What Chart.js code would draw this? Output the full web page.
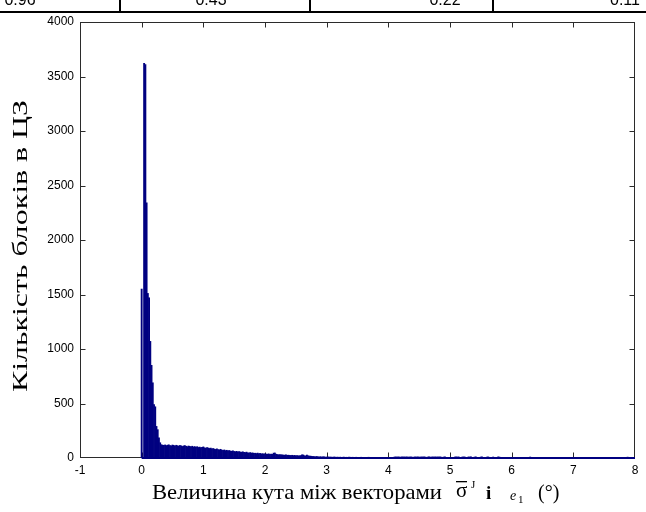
<!DOCTYPE html>
<html>
<head>
<meta charset="utf-8">
<script src="https://cdn.jsdelivr.net/npm/chart.js@4.4.1/dist/chart.umd.min.js"></script>
<style>
    html, body { margin: 0; padding: 0; background: #fff; }
    canvas { display: block; }
</style>
</head>
<body>
<canvas id="angleHist" width="646" height="512"></canvas>
<script>
// histogram bins: 0.02 deg wide, first bin centred at 0
const binStart = 0;
const binWidth = 0.02;
const counts = [
    1550, 0, 3620, 3610, 2340, 1510, 1470, 1070, 850, 690, 490, 470, 290, 260, 185, 140, 122, 118, 116, 120,
    114, 118, 121, 115, 112, 119, 116, 110, 117, 113, 109, 115, 112, 106, 111, 114, 108, 104, 110, 107,
    103, 108, 101, 105, 99, 104, 97, 100, 95, 98, 102, 94, 90, 96, 92, 88, 91, 85, 87, 82,
    79, 84, 77, 75, 80, 73, 70, 74, 68, 71, 66, 69, 64, 62, 66, 60, 58, 61, 56, 59,
    55, 53, 57, 51, 50, 54, 48, 46, 50, 45, 47, 43, 44, 41, 45, 40, 42, 38, 40, 37,
    39, 36, 35, 38, 33, 36, 34, 45, 46, 35, 32, 30, 31, 28, 29, 27, 26, 28, 25, 26,
    24, 23, 25, 22, 24, 21, 22, 20, 21, 22, 30, 28, 21, 19, 27, 20, 18, 17, 15, 14,
    13, 12, 14, 11, 10, 12, 9, 10, 11, 8, 9, 10, 8, 9, 8, 7, 9, 8, 7, 8,
    7, 8, 6, 7, 8, 6, 7, 6, 8, 7, 6, 7, 6, 5, 7, 6, 5, 6, 7, 5,
    6, 5, 6, 5, 7, 5, 6, 4, 5, 6, 5, 4, 6, 5, 4, 5, 6, 4, 5, 4,
    4, 3, 5, 4, 3, 9, 10, 9, 10, 9, 8, 10, 9, 10, 9, 10, 8, 9, 10, 9,
    3, 9, 10, 9, 10, 8, 9, 10, 9, 10, 9, 4, 9, 10, 8, 9, 10, 9, 10, 9,
    10, 9, 10, 8, 3, 9, 10, 4, 3, 2, 3, 4, 2, 3, 9, 10, 9, 10, 2, 3,
    9, 10, 9, 2, 3, 10, 9, 10, 3, 2, 9, 10, 2, 3, 2, 9, 10, 2, 2, 3,
    9, 10, 2, 1, 2, 9, 2, 1, 2, 10, 9, 2, 1, 2, 1, 2, 1, 0, 1, 2,
    1, 0, 1, 2, 1, 0, 1, 0, 1, 2, 1, 0, 1, 0, 1, 9, 1, 0, 1, 0,
    0, 1, 0, 0, 1, 0, 0, 1, 0, 0, 0, 1, 0, 0, 0, 0, 1, 0, 0, 0,
    0, 0, 1, 0, 0, 0, 0, 0, 1, 0, 0, 0, 0, 0, 0, 1, 0, 0, 0, 0,
    0, 0, 0, 0, 1, 0, 0, 0, 0, 0, 0, 0, 0, 1, 0, 0, 0, 0, 0, 0,
    0, 0, 0, 0, 0, 1, 0, 0, 0, 0, 0, 0, 0, 0, 8, 0, 0, 0, 0, 0
];
const xTicks = [-1, 0, 1, 2, 3, 4, 5, 6, 7, 8];
const yTicks = [0, 500, 1000, 1500, 2000, 2500, 3000, 3500, 4000];
const baseline = [{x: 0, y: 0}, {x: 8, y: 0}];

// row of the table above the figure (only its lower part is visible)
const tableValues = ['0.96', '0.43', '0.22', '0.11'];

const yTitle = 'Кількість блоків в ЦЗ';
const xTitle = 'Величина кута між векторами';

const histData = counts.map((c, i) => ({x: binStart + i * binWidth, y: c}));

const navy = '#000080';
const tickFont = {family: 'Liberation Sans', size: 12};

// text squeezed/stretched to a given length
function fitText(ctx, text, x, y, width) {
    const w = ctx.measureText(text).width;
    ctx.save();
    ctx.translate(x, y);
    ctx.scale(width / w, 1);
    ctx.fillText(text, 0, 0);
    ctx.restore();
}

const matlabBox = {
    id: 'matlabBox',
    beforeDatasetsDraw(chart) {
        const {ctx, chartArea: a, scales: {x, y}} = chart;
        const l = Math.round(a.left) + 0.5, r = Math.round(a.right) - 0.5;
        const t = Math.round(a.top) + 0.5, b = Math.round(a.bottom) - 0.5;
        ctx.save();
        ctx.strokeStyle = '#2b2b2b';
        ctx.lineWidth = 1;
        ctx.strokeRect(l, t, r - l, b - t);
        ctx.beginPath();
        xTicks.slice(1, -1).forEach(v => {
            const px = Math.round(x.getPixelForValue(v)) + 0.5;
            ctx.moveTo(px, b); ctx.lineTo(px, b - 5);
            ctx.moveTo(px, t); ctx.lineTo(px, t + 5);
        });
        yTicks.slice(1, -1).forEach(v => {
            const py = Math.round(y.getPixelForValue(v)) + 0.5;
            ctx.moveTo(l, py); ctx.lineTo(l + 5, py);
            ctx.moveTo(r, py); ctx.lineTo(r - 5, py);
        });
        ctx.stroke();
        ctx.restore();
    },
    afterDraw(chart) {
        const ctx = chart.ctx;
        ctx.save();
        ctx.fillStyle = '#000';

        // y title
        ctx.font = '21px "Liberation Serif"';
        ctx.translate(21, 392);
        ctx.rotate(-Math.PI / 2);
        ctx.textAlign = 'left';
        ctx.textBaseline = 'middle';
        fitText(ctx, yTitle, 0, 0, 292);
        ctx.setTransform(1, 0, 0, 1, 0, 0);

        // x title with the symbols
        ctx.textAlign = 'left';
        ctx.textBaseline = 'alphabetic';
        ctx.font = '21px "Liberation Serif"';
        fitText(ctx, xTitle, 152, 499, 290);
        ctx.fillText('σ', 456, 497);
        ctx.fillRect(456, 481, 11, 1.3);
        ctx.font = '11px "Liberation Serif"';
        ctx.fillText('J', 471, 488);
        ctx.font = 'bold 19px "Liberation Serif"';
        ctx.fillText('і', 486, 499);
        ctx.font = 'italic 14px "Liberation Serif"';
        ctx.fillText('e', 510, 500);
        ctx.font = '11px "Liberation Serif"';
        ctx.fillText('1', 518, 503);
        ctx.font = '20px "Liberation Serif"';
        ctx.fillText('(°)', 538, 499);

        // table fragment on top
        ctx.fillRect(0, 11, 646, 2);
        [119, 309, 492].forEach(px => ctx.fillRect(px, 0, 2, 12));
        ctx.font = '16px "Liberation Sans"';
        ctx.textAlign = 'center';
        [20, 211, 445, 625].forEach((px, i) => ctx.fillText(tableValues[i], px, 5));
        ctx.restore();
    }
};

new Chart(document.getElementById('angleHist'), {
    type: 'bar',
    data: {
        datasets: [
            {
                type: 'line',
                data: baseline,
                borderColor: navy,
                borderWidth: 2,
                pointRadius: 0,
                clip: false,
                order: 0
            },
            {
                data: histData,
                backgroundColor: navy,
                borderWidth: 0,
                barPercentage: 1,
                categoryPercentage: 1,
                order: 1
            }
        ]
    },
    options: {
        responsive: false,
        animation: false,
        devicePixelRatio: 1,
        layout: {padding: {left: 0, top: 22, right: 11, bottom: 0}},
        plugins: {
            legend: {display: false},
            tooltip: {enabled: false}
        },
        scales: {
            x: {
                type: 'linear',
                min: -1,
                max: 8,
                offset: false,
                afterBuildTicks: s => { s.ticks = xTicks.map(v => ({value: v})); },
                ticks: {font: tickFont, color: '#000', padding: 5, maxRotation: 0, autoSkip: false,
                        callback: v => String(v)},
                grid: {display: false, drawTicks: false},
                border: {display: false},
                afterFit: s => { s.height = 54; }
            },
            y: {
                min: 0,
                max: 4000,
                afterBuildTicks: s => { s.ticks = yTicks.map(v => ({value: v})); },
                ticks: {font: tickFont, color: '#000', padding: 6, callback: v => String(v)},
                grid: {display: false, drawTicks: false},
                border: {display: false},
                afterFit: s => { s.width = 80; }
            }
        }
    },
    plugins: [matlabBox]
});
</script>
</body>
</html>
